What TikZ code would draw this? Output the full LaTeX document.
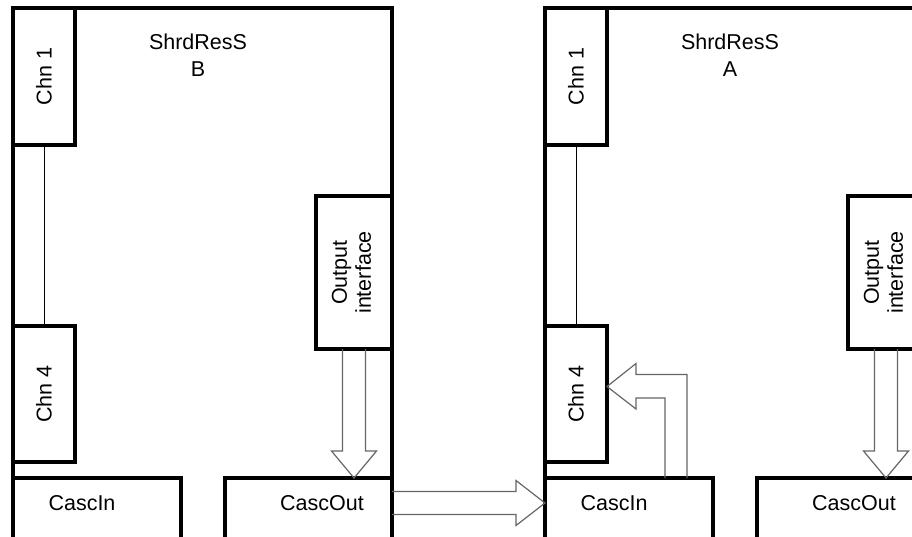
\documentclass[tikz,border=0pt]{standalone}
\usepackage{fontspec}
\setmainfont{Liberation Sans}
\usetikzlibrary{calc}

\tikzset{
  shrframe/.style={draw, line width=4pt},
  blk/.style={draw, line width=3.5pt, inner sep=0pt, outer sep=0pt, anchor=north west,
    font=\fontsize{21.5}{24}\selectfont},
  lbl/.style={font=\fontsize{21.5}{24}\selectfont, align=center, inner sep=0pt},
  hollow/.style={draw=black!60, line width=1.2pt, line join=miter},
  chnlink/.style={draw, line width=1pt}
}

\begin{document}
\begin{tikzpicture}[x=1pt, y=-1pt]
    \useasboundingbox (0,0) rectangle (912,536);
    \clip (0,0) rectangle (912,536);
    % the two shared resources, B on the left and A on the right
    \foreach \s/\o in {B/0, A/532} {
      \draw[shrframe] ({13+\o},8) rectangle ({392+\o},570);
      \node[lbl] (title\s) at ({198+\o},55) {ShrdResS\\[3pt]\s};
      \node[blk, minimum width=62pt, minimum height=137pt] (chn1\s) at ({13+\o},8) {\rotatebox{90}{Chn 1}};
      \node[blk, minimum width=62pt, minimum height=136pt] (chn4\s) at ({13+\o},326) {\rotatebox{90}{Chn 4}};
      \node[blk, minimum width=76pt, minimum height=153pt] (out\s) at ({316+\o},196)
        {\rotatebox{90}{\begin{tabular}{@{}c@{}}Output\\interface\end{tabular}}};
      \node[blk, minimum width=168pt, minimum height=100pt] (ci\s) at ({13+\o},478) {};
      \node[blk, minimum width=167pt, minimum height=100pt] (co\s) at ({225+\o},478) {};
      \node[lbl] (ciTxt\s) at ({82+\o},503) {CascIn};
      \node[lbl] (coTxt\s) at ({322+\o},503) {CascOut};
      \draw[chnlink] (chn1\s.south) -- (chn4\s.north);
      \coordinate (tip\s) at (co\s.north -| out\s.south);
      \draw[hollow] ($(out\s.south)+(-11.5,0)$) -- ($(tip\s)+(-11.5,-27)$) -- ++(-11,0) -- (tip\s)
        -- ++(22.5,-27) -- ++(-11,0) -- ($(out\s.south)+(11.5,0)$);
    }
    % cascade from B to A
    \coordinate (outTail) at (coTxtB -| coB.east);
    \coordinate (inTip) at (ciTxtA -| ciA.west);
    \draw[hollow] ($(outTail)+(0,-11.5)$) -- ($(inTip)+(-29,-11.5)$) -- ++(0,-11) -- (inTip)
      -- ++(-29,22.5) -- ++(0,-11) -- ($(outTail)+(0,11.5)$);
    % CascIn feeds Chn 4
    \coordinate (tipIn) at ($(chn4A.east)+(0,-7.5)$);
    \draw[hollow] ($(ciA.north west)+(120,0)$) |- ($(tipIn)+(29,11.5)$) -- ++(0,11) -- (tipIn)
      -- ++(29,-23) -- ++(0,11) -| ($(ciA.north west)+(142,0)$);
\end{tikzpicture}
\end{document}
